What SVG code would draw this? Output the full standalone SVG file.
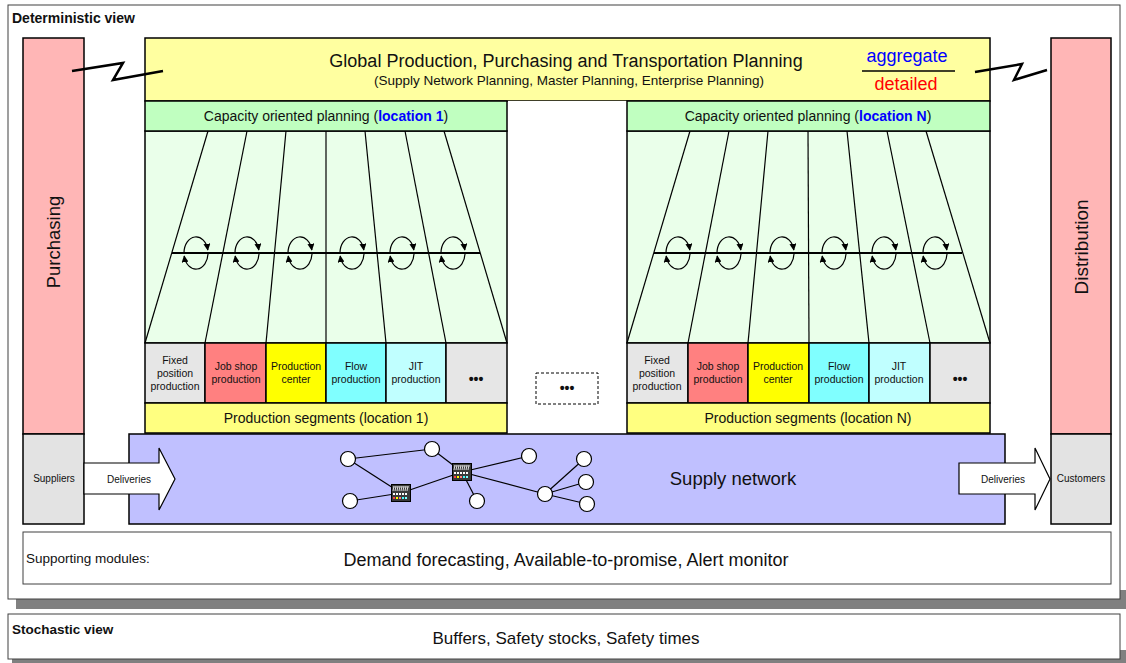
<svg xmlns="http://www.w3.org/2000/svg" width="1126" height="663" viewBox="0 0 1126 663">
<style>
text{font-family:"Liberation Sans",Arial,sans-serif;fill:#111}
.box{stroke:#000;stroke-width:1.5}
.thin{stroke:#000;stroke-width:1.2;fill:none}
.seg{font-size:10.5px;text-anchor:middle}
.big{font-size:18px;text-anchor:middle}
.mid{font-size:14px;text-anchor:middle}
.small{font-size:10px;text-anchor:middle}
.bold{font-weight:bold;font-size:14px}
.loop{fill:none;stroke:#000;stroke-width:1.2;marker-end:url(#ah)}
.edge{stroke:#000;stroke-width:1.2}
.node{fill:#fff;stroke:#000;stroke-width:1.2}
.bolt{fill:none;stroke:#000;stroke-width:2.5;stroke-linejoin:miter}
</style>
<defs>
<marker id="ah" viewBox="0 0 10 10" refX="9" refY="5" markerWidth="7" markerHeight="7" markerUnits="userSpaceOnUse" orient="auto">
<path d="M0,0 L10,5 L0,10 z" fill="#000"/>
</marker>
<g id="factory">
<rect x="-9.5" y="-8.5" width="19" height="17" fill="#3a3a3a" stroke="#000" stroke-width="1"/>
<path d="M-8,-2 L-7,-7 M-6,-2 L-5,-7 M-4,-2 L-3,-7 M-2,-2 L-1,-7 M0,-2 L1,-7 M2,-2 L3,-7 M4,-2 L5,-7 M6,-2 L7,-7" stroke="#fff" stroke-width="0.8"/>
<path d="M-8,-6 H8" stroke="#ddd" stroke-width="0.6"/>
<rect x="-8" y="0" width="2" height="2" fill="#fff"/><rect x="-5" y="0" width="2" height="2" fill="#fff"/><rect x="-2" y="0" width="2" height="2" fill="#fff"/><rect x="1" y="0" width="2" height="2" fill="#fff"/><rect x="4" y="0" width="2" height="2" fill="#fff"/>
<rect x="-8" y="4" width="2" height="2" fill="#ff4040"/><rect x="-5" y="4" width="2" height="2" fill="#ffff00"/><rect x="-2" y="4" width="2" height="2" fill="#ff8080"/><rect x="1" y="4" width="2" height="2" fill="#40ffff"/><rect x="4" y="4" width="2" height="2" fill="#80ffff"/>
</g>
</defs>

<!-- Deterministic frame -->
<g id="deterministic-frame">
<rect x="16" y="590" width="1110" height="19" fill="#808080"/>
<rect x="8" y="5" width="1112" height="594" fill="#fff" stroke="#404040" stroke-width="1"/>
<text x="12" y="23" class="bold">Deterministic view</text>
</g>

<g id="purchasing">
<rect x="23" y="38" width="61" height="396" fill="#ffb6b6" class="box"/>
<text transform="translate(60,242) rotate(-90)" style="font-size:18.5px;text-anchor:middle">Purchasing</text>
</g>
<g id="suppliers">
<rect x="23" y="434" width="61" height="90" fill="#e3e3e3" class="box"/>
<text x="54" y="482" class="small">Suppliers</text>
</g>
<g id="distribution">
<rect x="1051" y="38" width="60" height="396" fill="#ffb6b6" class="box"/>
<text transform="translate(1088,247) rotate(-90)" style="font-size:19px;text-anchor:middle">Distribution</text>
</g>
<g id="customers">
<rect x="1051" y="434" width="60" height="90" fill="#e3e3e3" class="box"/>
<text x="1081" y="482" class="small">Customers</text>
</g>

<g id="global-planning">
<rect x="145" y="38" width="845" height="63" fill="#ffffa0" class="box"/>
<text x="566" y="67" class="big">Global Production, Purchasing and Transportation Planning</text>
<text x="569" y="85" style="font-size:13.5px;text-anchor:middle">(Supply Network Planning, Master Planning, Enterprise Planning)</text>
<text x="907" y="62" style="font-size:18px;text-anchor:middle;fill:#0000ff">aggregate</text>
<line x1="862" y1="71" x2="955" y2="71" stroke="#000" stroke-width="1.5"/>
<text x="906" y="90" style="font-size:18px;text-anchor:middle;fill:#ff0000">detailed</text>
</g>

<!-- middle column -->
<g id="middle">
<rect x="508" y="101" width="119" height="332" fill="#fff"/>
<rect x="536" y="373" width="62" height="31" fill="#fff" stroke="#000" stroke-width="1" stroke-dasharray="3,2"/>
<text x="567" y="393" style="font-size:14px;font-weight:bold;text-anchor:middle">•••</text>
</g>

<!-- Location 1 -->
<g id="location-1">
<rect x="145" y="131" width="362" height="212" fill="#eaffea" class="box"/>
<rect x="145" y="101" width="362" height="30" fill="#c0ffc0" class="box"/>
<text x="326" y="121" class="mid">Capacity oriented planning (<tspan style="fill:#0000ff;font-weight:bold">location 1</tspan>)</text>
<g class="thin">
<line x1="208" y1="131" x2="145" y2="343"/>
<line x1="247" y1="131" x2="205" y2="343"/>
<line x1="286" y1="131" x2="266" y2="343"/>
<line x1="326" y1="131" x2="326" y2="343"/>
<line x1="365" y1="131" x2="386" y2="343"/>
<line x1="405" y1="131" x2="446" y2="343"/>
<line x1="444" y1="131" x2="507" y2="343"/>
<line x1="172" y1="253" x2="480" y2="253" stroke-width="2"/>
</g>
<g>
<path class="loop" d="M184,253 A12,16 0 0 1 207.8,250"/><path class="loop" d="M208,253 A12,16 0 0 1 184.2,256"/>
<path class="loop" d="M235,253 A12,16 0 0 1 258.8,250"/><path class="loop" d="M259,253 A12,16 0 0 1 235.2,256"/>
<path class="loop" d="M288,253 A12,16 0 0 1 311.8,250"/><path class="loop" d="M312,253 A12,16 0 0 1 288.2,256"/>
<path class="loop" d="M340,253 A12,16 0 0 1 363.8,250"/><path class="loop" d="M364,253 A12,16 0 0 1 340.2,256"/>
<path class="loop" d="M390,253 A12,16 0 0 1 413.8,250"/><path class="loop" d="M414,253 A12,16 0 0 1 390.2,256"/>
<path class="loop" d="M441,253 A12,16 0 0 1 464.8,250"/><path class="loop" d="M465,253 A12,16 0 0 1 441.2,256"/>
</g>
<rect x="145" y="343" width="60" height="60" fill="#e6e6e6" class="box"/>
<rect x="205" y="343" width="61" height="60" fill="#ff8080" class="box"/>
<rect x="266" y="343" width="60" height="60" fill="#ffff00" class="box"/>
<rect x="326" y="343" width="60" height="60" fill="#80ffff" class="box"/>
<rect x="386" y="343" width="60" height="60" fill="#c0ffff" class="box"/>
<rect x="446" y="343" width="61" height="60" fill="#e6e6e6" class="box"/>
<text x="175" y="364" class="seg">Fixed</text><text x="175" y="377" class="seg">position</text><text x="175" y="390" class="seg">production</text>
<text x="236" y="370" class="seg">Job shop</text><text x="236" y="383" class="seg">production</text>
<text x="296" y="370" class="seg">Production</text><text x="296" y="383" class="seg">center</text>
<text x="356" y="370" class="seg">Flow</text><text x="356" y="383" class="seg">production</text>
<text x="416" y="370" class="seg">JIT</text><text x="416" y="383" class="seg">production</text>
<text x="476" y="384" style="font-size:14px;font-weight:bold;text-anchor:middle">•••</text>
<rect x="145" y="403" width="362" height="30" fill="#ffff80" class="box"/>
<text x="326" y="423" class="mid">Production segments (location 1)</text>
</g>

<!-- Location N -->
<g id="location-n">
<rect x="627" y="131" width="363" height="212" fill="#eaffea" class="box"/>
<rect x="627" y="101" width="363" height="30" fill="#c0ffc0" class="box"/>
<text x="808" y="121" class="mid">Capacity oriented planning (<tspan style="fill:#0000ff;font-weight:bold">location N</tspan>)</text>
<g class="thin">
<line x1="690" y1="131" x2="627" y2="343"/>
<line x1="729" y1="131" x2="688" y2="343"/>
<line x1="768" y1="131" x2="748" y2="343"/>
<line x1="808" y1="131" x2="809" y2="343"/>
<line x1="847" y1="131" x2="869" y2="343"/>
<line x1="887" y1="131" x2="930" y2="343"/>
<line x1="926" y1="131" x2="990" y2="343"/>
<line x1="654" y1="253" x2="962" y2="253" stroke-width="2"/>
</g>
<g>
<path class="loop" d="M666,253 A12,16 0 0 1 689.8,250"/><path class="loop" d="M690,253 A12,16 0 0 1 666.2,256"/>
<path class="loop" d="M717,253 A12,16 0 0 1 740.8,250"/><path class="loop" d="M741,253 A12,16 0 0 1 717.2,256"/>
<path class="loop" d="M770,253 A12,16 0 0 1 793.8,250"/><path class="loop" d="M794,253 A12,16 0 0 1 770.2,256"/>
<path class="loop" d="M822,253 A12,16 0 0 1 845.8,250"/><path class="loop" d="M846,253 A12,16 0 0 1 822.2,256"/>
<path class="loop" d="M872,253 A12,16 0 0 1 895.8,250"/><path class="loop" d="M896,253 A12,16 0 0 1 872.2,256"/>
<path class="loop" d="M923,253 A12,16 0 0 1 946.8,250"/><path class="loop" d="M947,253 A12,16 0 0 1 923.2,256"/>
</g>
<rect x="627" y="343" width="61" height="60" fill="#e6e6e6" class="box"/>
<rect x="688" y="343" width="60" height="60" fill="#ff8080" class="box"/>
<rect x="748" y="343" width="61" height="60" fill="#ffff00" class="box"/>
<rect x="809" y="343" width="60" height="60" fill="#80ffff" class="box"/>
<rect x="869" y="343" width="61" height="60" fill="#c0ffff" class="box"/>
<rect x="930" y="343" width="60" height="60" fill="#e6e6e6" class="box"/>
<text x="657" y="364" class="seg">Fixed</text><text x="657" y="377" class="seg">position</text><text x="657" y="390" class="seg">production</text>
<text x="718" y="370" class="seg">Job shop</text><text x="718" y="383" class="seg">production</text>
<text x="778" y="370" class="seg">Production</text><text x="778" y="383" class="seg">center</text>
<text x="839" y="370" class="seg">Flow</text><text x="839" y="383" class="seg">production</text>
<text x="899" y="370" class="seg">JIT</text><text x="899" y="383" class="seg">production</text>
<text x="960" y="384" style="font-size:14px;font-weight:bold;text-anchor:middle">•••</text>
<rect x="627" y="403" width="363" height="30" fill="#ffff80" class="box"/>
<text x="808" y="423" class="mid">Production segments (location N)</text>
</g>

<!-- Supply network -->
<g id="supply-network">
<rect x="129" y="434" width="876" height="90" fill="#c0c0ff" class="box"/>
<text x="733" y="485" style="font-size:18.5px;text-anchor:middle">Supply network</text>
<g>
<line class="edge" x1="348" y1="459" x2="432" y2="449"/>
<line class="edge" x1="348" y1="459" x2="401" y2="493"/>
<line class="edge" x1="350" y1="501" x2="401" y2="493"/>
<line class="edge" x1="401" y1="493" x2="462" y2="472"/>
<line class="edge" x1="432" y1="449" x2="462" y2="472"/>
<line class="edge" x1="462" y1="472" x2="529" y2="456"/>
<line class="edge" x1="462" y1="472" x2="477" y2="501"/>
<line class="edge" x1="462" y1="472" x2="545" y2="494"/>
<line class="edge" x1="545" y1="494" x2="584" y2="459"/>
<line class="edge" x1="545" y1="494" x2="586" y2="482"/>
<line class="edge" x1="545" y1="494" x2="587" y2="504"/>
</g>
<circle class="node" cx="348" cy="459" r="7.5"/>
<circle class="node" cx="432" cy="449" r="7.5"/>
<circle class="node" cx="350" cy="501" r="7.5"/>
<circle class="node" cx="477" cy="501" r="7.5"/>
<circle class="node" cx="529" cy="456" r="7.5"/>
<circle class="node" cx="545" cy="494" r="7.5"/>
<circle class="node" cx="584" cy="459" r="7.5"/>
<circle class="node" cx="586" cy="482" r="7.5"/>
<circle class="node" cx="587" cy="504" r="7.5"/>
<use href="#factory" x="401" y="493"/>
<use href="#factory" x="462" y="472"/>
</g>

<!-- connectors -->
<g id="connectors">
<polygon points="84,463 159,463 159,448 175,479 159,510 159,494 84,494" fill="#fff" stroke="#000" stroke-width="1.2"/>
<text x="129" y="483" class="small">Deliveries</text>
<polygon points="959,463 1035,463 1035,448 1050,479 1035,510 1035,494 959,494" fill="#fff" stroke="#000" stroke-width="1.2"/>
<text x="1003" y="483" class="small">Deliveries</text>
<polyline class="bolt" points="72,71 123,63 113,80 163,71"/>
<polyline class="bolt" points="975,72 1022,64 1014,80 1047,70"/>
</g>

<g id="supporting-modules">
<rect x="23" y="532" width="1088" height="52" fill="#fff" stroke="#404040" stroke-width="1"/>
<text x="26" y="563" style="font-size:13.5px">Supporting modules:</text>
<text x="566" y="566" style="font-size:18px;text-anchor:middle">Demand forecasting, Available-to-promise, Alert monitor</text>
</g>

<g id="stochastic-view">
<rect x="12" y="650" width="1114" height="13" fill="#808080"/>
<rect x="8" y="614" width="1112" height="45" fill="#fff" stroke="#404040" stroke-width="1"/>
<text x="12" y="634" style="font-weight:bold;font-size:13.5px">Stochastic view</text>
<text x="566" y="644" class="big" style="font-size:17px">Buffers, Safety stocks, Safety times</text>
</g>
</svg>
